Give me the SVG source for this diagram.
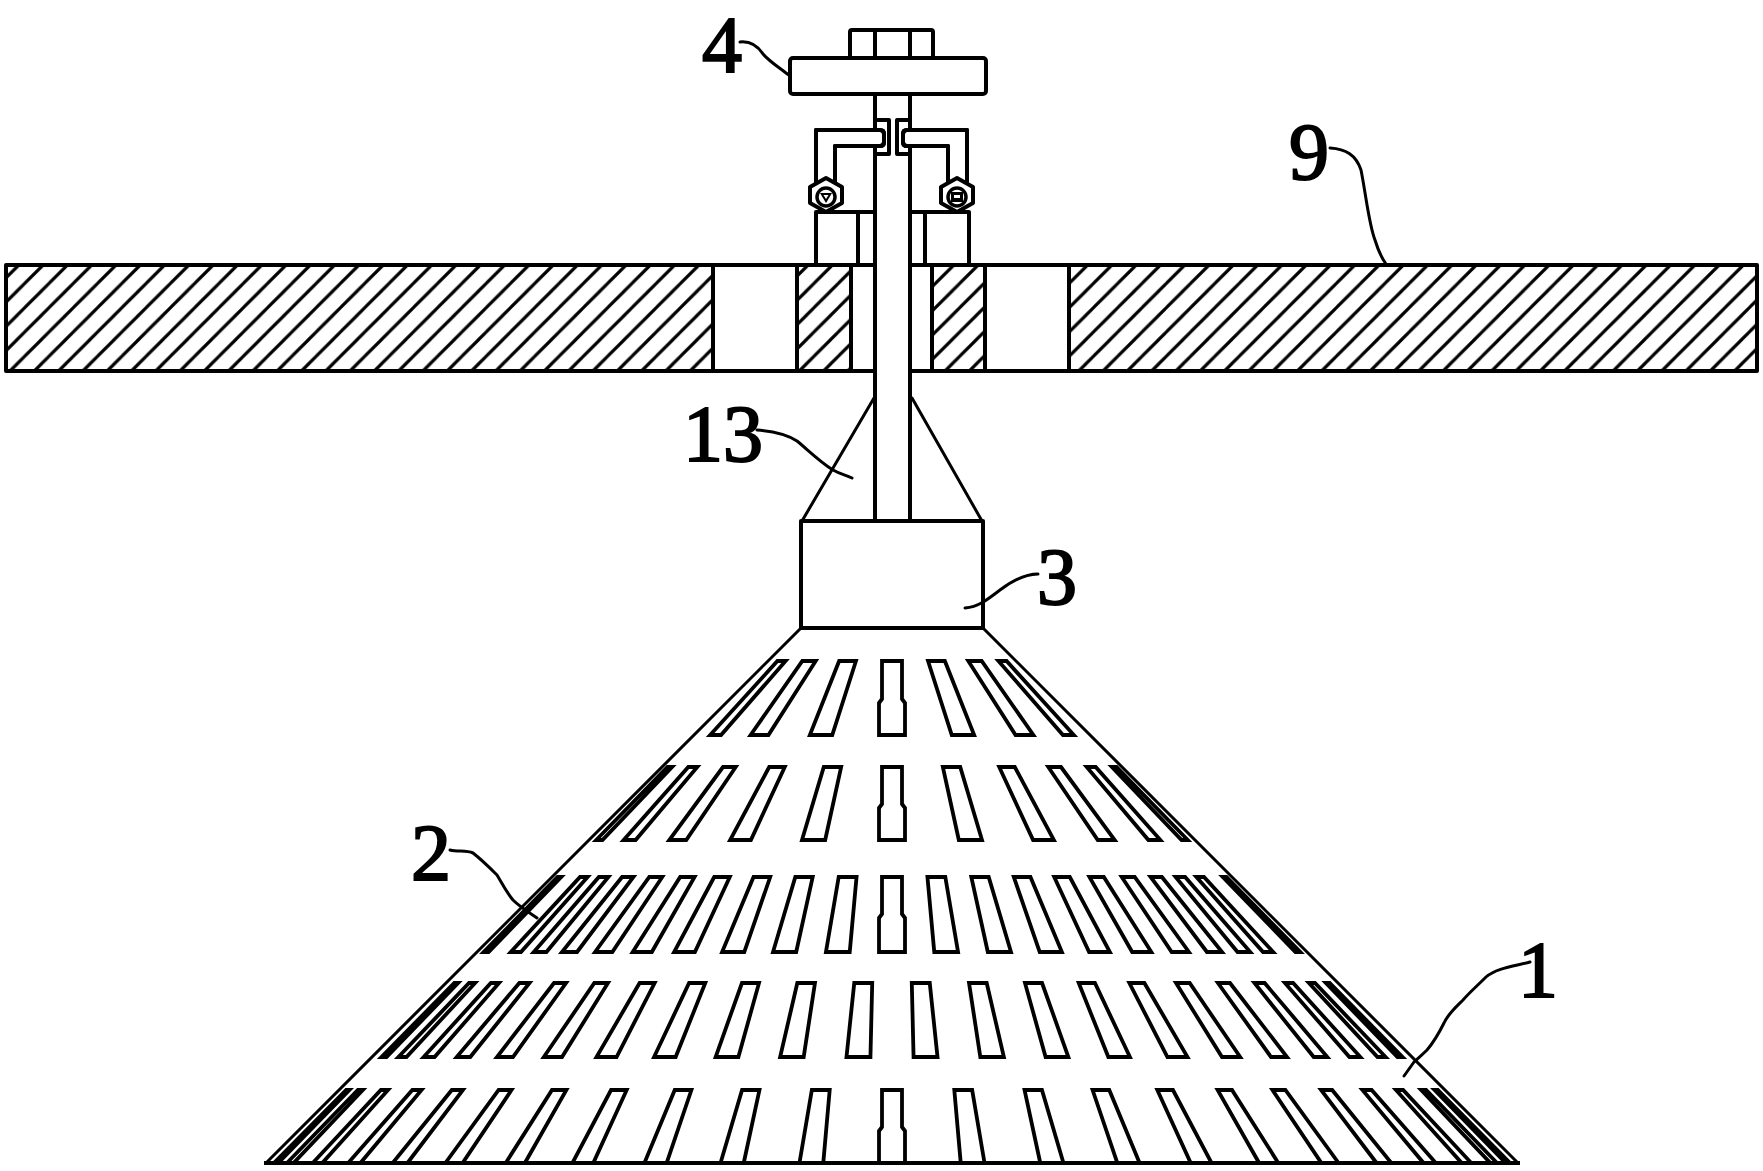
<svg xmlns="http://www.w3.org/2000/svg" width="1763" height="1171" viewBox="0 0 1763 1171">
<style>
.l{fill:none;stroke:#000;stroke-width:4;stroke-linejoin:round}
.w{fill:#fff;stroke:#000;stroke-width:4;stroke-linejoin:round}
.t{fill:none;stroke:#000;stroke-width:3;stroke-linejoin:round;stroke-linecap:round}
.s{fill:#fff;stroke:#000;stroke-width:3.8;stroke-linejoin:miter;vector-effect:non-scaling-stroke}
.n{font-family:"Liberation Serif","Times New Roman",serif;font-size:80px;fill:#000;stroke:#000;stroke-width:2}
</style>
<defs>
<pattern id="hA" patternUnits="userSpaceOnUse" width="24.29" height="24.29">
<path d="M17.65 -1L-1 17.65M25.29 15.65L15.65 25.29" stroke="#000" stroke-width="3.2" fill="none"/>
</pattern>
<pattern id="hB" patternUnits="userSpaceOnUse" width="24.29" height="24.29" patternTransform="translate(12 0)">
<path d="M17.65 -1L-1 17.65M25.29 15.65L15.65 25.29" stroke="#000" stroke-width="3.2" fill="none"/>
</pattern>
<polygon id="r1" class="s" points="-9,124 9,124 12,198 -12,198"/>
<polygon id="r2" class="s" points="-9,230 9,230 12,303 -12,303"/>
<polygon id="r3" class="s" points="-9,340 9,340 12,415 -12,415"/>
<polygon id="r4" class="s" points="-9,446 9,446 12,520 -12,520"/>
<polygon id="r5" class="s" points="-9,553 9,553 12,626 -12,626"/>
<polygon id="c1" class="s" points="-10,124 10,124 10,162 13,166 13,198 -13,198 -13,166 -10,162"/>
<polygon id="c2" class="s" points="-10,230 10,230 10,267 13,271 13,303 -13,303 -13,271 -10,267"/>
<polygon id="c3" class="s" points="-10,340 10,340 10,377 13,381 13,415 -13,415 -13,381 -10,377"/>
<polygon id="c5" class="s" points="-10,553 10,553 10,590 13,594 13,626 -13,626 -13,594 -10,590"/>
</defs>
<rect width="1763" height="1171" fill="#fff"/>

<g id="plate-9">
<rect x="6" y="265" width="707" height="106" fill="url(#hA)"/>
<rect x="797" y="265" width="54" height="106" fill="url(#hB)"/>
<rect x="932" y="265" width="53" height="106" fill="url(#hB)"/>
<rect x="1069" y="265" width="688" height="106" fill="url(#hA)"/>
<path class="l" d="M6 265H1757V371H6ZM713 265V371M797 265V371M851 265V371M932 265V371M985 265V371M1069 265V371"/>
</g>

<g id="cone-1">
<path class="t" d="M801 628L266 1163M983 628L1518 1163"/>
<path class="l" d="M264 1163H1520"/>
<g transform="translate(892 537)">
<use href="#c1"/><use href="#c2"/><use href="#c3"/><use href="#c5"/>
<g id="half">
<use href="#r1" transform="matrix(.9336 0 .3584 1 0 0)"/>
<use href="#r1" transform="matrix(.7431 0 .6691 1 0 0)"/>
<use href="#r1" transform="matrix(.454 0 .891 1 0 0)"/>
<use href="#r2" transform="matrix(.9659 0 .2588 1 0 0)"/>
<use href="#r2" transform="matrix(.866 0 .5 1 0 0)"/>
<use href="#r2" transform="matrix(.7071 0 .7071 1 0 0)"/>
<use href="#r2" transform="matrix(.5 0 .866 1 0 0)"/>
<use href="#r2" transform="matrix(.2588 0 .9659 1 0 0)"/>
<use href="#r3" transform="matrix(.9914 0 .1305 1 0 0)"/>
<use href="#r3" transform="matrix(.9659 0 .2588 1 0 0)"/>
<use href="#r3" transform="matrix(.9239 0 .3827 1 0 0)"/>
<use href="#r3" transform="matrix(.866 0 .5 1 0 0)"/>
<use href="#r3" transform="matrix(.7986 0 .6018 1 0 0)"/>
<use href="#r3" transform="matrix(.7193 0 .6947 1 0 0)"/>
<use href="#r3" transform="matrix(.6293 0 .7771 1 0 0)"/>
<use href="#r3" transform="matrix(.5299 0 .848 1 0 0)"/>
<use href="#r3" transform="matrix(.4226 0 .9063 1 0 0)"/>
<use href="#r3" transform="matrix(.2079 0 .9781 1 0 0)"/>
<use href="#r4" transform="matrix(.9979 0 .0645 1 0 0)"/>
<use href="#r4" transform="matrix(.9813 0 .1925 1 0 0)"/>
<use href="#r4" transform="matrix(.9483 0 .3173 1 0 0)"/>
<use href="#r4" transform="matrix(.8996 0 .4368 1 0 0)"/>
<use href="#r4" transform="matrix(.8358 0 .549 1 0 0)"/>
<use href="#r4" transform="matrix(.7581 0 .6521 1 0 0)"/>
<use href="#r4" transform="matrix(.6678 0 .7443 1 0 0)"/>
<use href="#r4" transform="matrix(.5664 0 .8241 1 0 0)"/>
<use href="#r4" transform="matrix(.4555 0 .8902 1 0 0)"/>
<use href="#r4" transform="matrix(.3371 0 .9415 1 0 0)"/>
<use href="#r4" transform="matrix(.213 0 .977 1 0 0)"/>
<use href="#r5" transform="matrix(.9917 0 .1288 1 0 0)"/>
<use href="#r5" transform="matrix(.9668 0 .2554 1 0 0)"/>
<use href="#r5" transform="matrix(.9259 0 .3778 1 0 0)"/>
<use href="#r5" transform="matrix(.8695 0 .4939 1 0 0)"/>
<use href="#r5" transform="matrix(.7986 0 .6018 1 0 0)"/>
<use href="#r5" transform="matrix(.7145 0 .6997 1 0 0)"/>
<use href="#r5" transform="matrix(.6184 0 .7859 1 0 0)"/>
<use href="#r5" transform="matrix(.512 0 .859 1 0 0)"/>
<use href="#r5" transform="matrix(.3971 0 .9178 1 0 0)"/>
<use href="#r5" transform="matrix(.2756 0 .9613 1 0 0)"/>
<use href="#r5" transform="matrix(.18 0 .984 1 0 0)"/>
</g>
<use href="#half" transform="scale(-1 1)"/>
</g>
</g>

<g id="hood-13">
<path class="t" d="M874 398L802 521M912 398L982 521"/>
</g>

<g id="shaft">
<rect class="w" x="875" y="94" width="35" height="427"/>
</g>

<g id="box-3">
<rect class="w" x="801" y="521" width="182" height="107"/>
</g>

<g id="flange-4">
<rect class="w" x="850" y="30" width="83" height="28" rx="2"/>
<path class="l" d="M875 30V58M910 30V58"/>
<rect class="w" x="790" y="58" width="196" height="36" rx="3"/>
</g>

<g id="clamp-left">
<path class="l" d="M816 265V212H875M858 212V265"/>
<path class="w" d="M889 120H875V154H889Z"/>
<path class="w" d="M835 182V146H880Q884 146 884 142V134Q884 130 880 130H816V182Z" stroke="none"/>
<path class="l" d="M835 182V146H880Q884 146 884 142V134Q884 130 880 130H816V182"/>
<polygon class="w" points="826,178 842,187 842,203 826,212 810,203 810,187"/>
<circle class="l" cx="826" cy="197" r="9" style="stroke-width:3.5"/>
<path d="M820 193H832L826 203Z" fill="#000"/>
<path d="M823.5 195H828.5L826 199Z" fill="#fff"/>
</g>

<g id="clamp-right">
<path class="l" d="M969 265V212H910M925 212V265"/>
<path class="w" d="M897 120H910V154H897Z"/>
<path class="w" d="M948 182V146H907Q903 146 903 142V134Q903 130 907 130H967V182Z" stroke="none"/>
<path class="l" d="M948 182V146H907Q903 146 903 142V134Q903 130 907 130H967V182"/>
<polygon class="w" points="957,178 973,187 973,203 957,212 941,203 941,187"/>
<circle class="l" cx="957" cy="197" r="9" style="stroke-width:3.5"/>
<rect x="951" y="192" width="12" height="10" fill="#000"/>
<rect x="954" y="195" width="6" height="3" fill="#fff"/>
</g>

<g id="connectors">
<path class="t" d="M740 42C750 41 757 45 763 54C770 62 780 68 790 76"/>
<path class="t" d="M1330 148C1346 149 1356 155 1361 170C1366 195 1369 225 1375 240C1378 250 1381 257 1386 264"/>
<path class="t" d="M757 430C770 431 785 433 797 441C808 450 820 462 833 470C840 474 846 475 852 478"/>
<path class="t" d="M965 608C978 607 987 600 1000 590C1012 581 1024 574 1038 574"/>
<path class="t" d="M450 850C458 852 466 850 473 853C482 860 490 868 497 875C503 885 507 893 513 900C520 907 530 913 537 918"/>
<path class="t" d="M1530 962C1515 966 1496 968 1486 977C1475 988 1470 992 1463 1000C1455 1008 1448 1014 1444 1023C1438 1035 1433 1043 1427 1050C1421 1056 1418 1058 1414 1062L1404 1076"/>
</g>

<g id="labels">
<text class="n" x="702" y="72">4</text>
<text class="n" x="1289" y="179">9</text>
<text class="n" x="683" y="461">13</text>
<text class="n" x="1037" y="604">3</text>
<text class="n" x="411" y="880">2</text>
<text class="n" x="1518" y="997">1</text>
</g>
</svg>
